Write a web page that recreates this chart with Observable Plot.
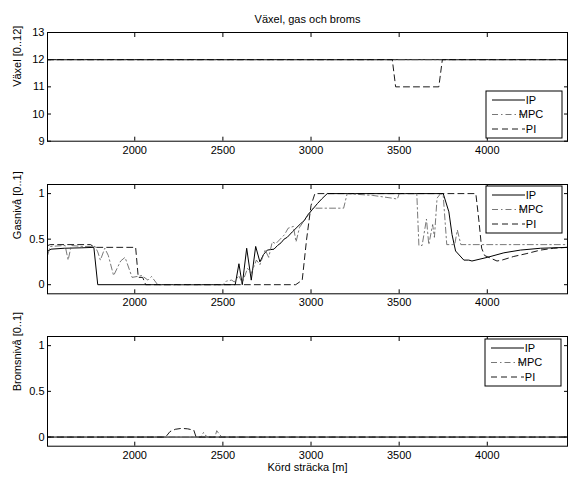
<!DOCTYPE html>
<html>
<head>
<meta charset="utf-8">
<script src="https://cdn.jsdelivr.net/npm/d3@7"></script>
<script src="https://cdn.jsdelivr.net/npm/@observablehq/plot@0.6"></script>
<style>
  body { margin: 0; background: white; }
  #chart { position: relative; width: 571px; height: 477px; background: white; }
  #chart > svg { position: absolute; left: 0; }
</style>
</head>
<body>
<div id="chart"></div>
<script>
// ---------- data ----------
const seriesNames = ["IP", "MPC", "PI"];
const xDomain = [1505, 4455];
const xTicks = [2000, 2500, 3000, 3500, 4000];
const gearTicks = [9, 10, 11, 12, 13];
const levelTicks = [0, 0.5, 1];

const chartTitle = "Växel, gas och broms";
const xLabel = "Körd sträcka [m]";
const yLabels = ["Växel [0..12]", "Gasnivå [0..1]", "Bromsnivå [0..1]"];

// Panel 1: gear
const gearIP = [[1505, 12], [4455, 12]];
const gearMPC = [[1505, 12], [4455, 12]];
const gearPI = [[1505, 12], [3461, 12], [3480, 11], [3725, 11], [3745, 12], [4455, 12]];

// Panel 2: throttle
const gasIP = [[1507, 0.37], [1525, 0.39], [1600, 0.40], [1700, 0.405], [1768, 0.41], [1790, 0],
  [2570, 0], [2591, 0.23], [2610, 0.0], [2635, 0.40], [2661, 0.05], [2686, 0.42], [2710, 0.25],
  [2730, 0.33], [2752, 0.38], [2790, 0.39], [2810, 0.43], [2830, 0.46], [2847, 0.5], [2865, 0.52],
  [2894, 0.58], [2915, 0.62], [2941, 0.67], [2960, 0.70], [2983, 0.77], [3010, 0.83], [3036, 0.89],
  [3060, 0.94], [3092, 1.0], [3750, 1.0], [3782, 0.80], [3800, 0.55], [3820, 0.37], [3867, 0.27],
  [3895, 0.27], [3913, 0.26], [4000, 0.30], [4094, 0.35], [4188, 0.38], [4302, 0.40], [4455, 0.41]];
const gasMPC = [[1507, 0.33], [1520, 0.42], [1605, 0.43], [1622, 0.27], [1640, 0.43], [1700, 0.42],
  [1775, 0.42], [1790, 0.36], [1805, 0.27], [1830, 0.40], [1850, 0.32], [1880, 0.10], [1920, 0.26],
  [1945, 0.30], [1985, 0.08], [2040, 0.10], [2075, 0.05], [2095, 0.09], [2130, 0], [2500, 0],
  [2520, 0.04], [2550, 0.05], [2565, 0.03], [2590, 0.10], [2610, 0.02], [2640, 0.18], [2660, 0.12],
  [2690, 0.27], [2710, 0.22], [2740, 0.38], [2760, 0.30], [2780, 0.47], [2800, 0.45], [2850, 0.55],
  [2870, 0.62], [2900, 0.64], [2915, 0.47], [2935, 0.63], [2960, 0.70], [2990, 0.78], [3012, 0.84],
  [3185, 0.84], [3205, 1.0], [3350, 0.98], [3460, 0.95], [3490, 0.94], [3500, 1.0], [3600, 1.0],
  [3612, 0.43], [3630, 0.43], [3655, 0.72], [3668, 0.44], [3690, 0.66], [3700, 0.52], [3715, 0.95],
  [3735, 1.0], [3750, 0.98], [3770, 0.44], [3815, 0.44], [3830, 0.60], [3850, 0.44], [4455, 0.44]];
const gasPI = [[1507, 0.43], [1520, 0.44], [1750, 0.44], [1770, 0.41], [2005, 0.41], [2020, 0.08],
  [2045, 0.08], [2062, 0], [2913, 0], [2950, 0.05], [2975, 0.5], [3000, 0.87], [3022, 1.0],
  [3935, 1.0], [3952, 0.71], [3968, 0.40], [3985, 0.32], [4055, 0.26], [4083, 0.27], [4150, 0.31],
  [4220, 0.34], [4302, 0.38], [4376, 0.40], [4455, 0.41]];

// Panel 3: brake
const brakeIP = [[1505, 0], [4455, 0]];
const brakeMPC = [[1505, 0], [2375, 0], [2390, 0.05], [2400, 0.02], [2415, 0], [2455, 0],
  [2465, 0.07], [2480, 0.03], [2495, 0], [4455, 0]];
const brakePI = [[1505, 0], [2175, 0], [2200, 0.06], [2230, 0.085], [2265, 0.095], [2300, 0.09],
  [2335, 0.075], [2348, 0], [4455, 0]];

// ---------- styles ----------
const FONT = "'Liberation Sans', Arial, Helvetica, sans-serif";
const lineStyles = {
  IP: {stroke: "black", strokeWidth: 1},
  MPC: {stroke: "#555", strokeWidth: 0.8, strokeDasharray: "6,3,1.5,3"},
  PI: {stroke: "black", strokeWidth: 0.9, strokeDasharray: "6,4"}
};

function panel({top, height, marginTop, marginBottom, yDomain, yTicks, yLabel, series, title, xlab, legendPos}) {
  const marks = [
    Plot.axisX({ticks: xTicks, anchor: "bottom", tickSize: -4, tickPadding: 8.5, label: null, tickFormat: d => String(d)}),
    Plot.axisX({ticks: xTicks, anchor: "top", tickSize: -4, label: null, tickFormat: () => ""}),
    Plot.axisY({ticks: yTicks, anchor: "left", tickSize: -4, tickPadding: 7, label: null, tickFormat: d => String(d)}),
    Plot.axisY({ticks: yTicks, anchor: "right", tickSize: -4, label: null, tickFormat: () => ""}),
    Plot.text([yLabel], {frameAnchor: "left", rotate: -90, dx: -30, fontSize: 11}),
  ];
  series.forEach(([name, data]) => {
    marks.push(Plot.line(data, {x: d => d[0], y: d => d[1], ...lineStyles[name]}));
  });
  marks.push(Plot.frame({stroke: "black", strokeWidth: 1}));
  if (title) marks.push(Plot.text([title], {frameAnchor: "top", dy: -10, lineAnchor: "bottom", fontSize: 11}));
  if (xlab) marks.push(Plot.text([xlab], {frameAnchor: "bottom", dy: 21, lineAnchor: "middle", fontSize: 11}));
  const svg = Plot.plot({
    width: 571, height, marginLeft: 47, marginRight: 4, marginTop, marginBottom,
    x: {domain: xDomain},
    y: {domain: yDomain},
    style: {fontFamily: FONT, fontSize: "11px", background: "white", color: "black", overflow: "visible"},
    marks
  });
  svg.style.top = top + "px";
  // legend box
  const g = d3.select(svg).append("g").attr("font-family", FONT).attr("font-size", 11);
  const [lx, ly] = legendPos;
  g.append("rect").attr("x", lx).attr("y", ly).attr("width", 76).attr("height", 47)
    .attr("fill", "white").attr("stroke", "black").attr("stroke-width", 1);
  const rowOffsets = [9, 23.5, 38];
  seriesNames.forEach((name, i) => {
    const st = lineStyles[name];
    const y = ly + rowOffsets[i];
    g.append("line").attr("x1", lx + 6).attr("x2", lx + 39).attr("y1", y).attr("y2", y)
      .attr("stroke", st.stroke).attr("stroke-width", st.strokeWidth)
      .attr("stroke-dasharray", st.strokeDasharray || null);
    g.append("text").attr("x", lx + 45).attr("y", y).attr("dy", "0.35em").attr("fill", "black").text(name);
  });
  document.getElementById("chart").appendChild(svg);
}

panel({top: 0, height: 160, marginTop: 32, marginBottom: 19.3, yDomain: [9, 13], yTicks: gearTicks,
  yLabel: yLabels[0], series: [["IP", gearIP], ["MPC", gearMPC], ["PI", gearPI]], title: chartTitle,
  legendPos: [486, 91]});
panel({top: 160, height: 150, marginTop: 24, marginBottom: 16.7, yDomain: [-0.1, 1.1], yTicks: levelTicks,
  yLabel: yLabels[1], series: [["IP", gasIP], ["MPC", gasMPC], ["PI", gasPI]],
  legendPos: [486, 26]});
panel({top: 310, height: 167, marginTop: 26, marginBottom: 31.3, yDomain: [-0.1, 1.1], yTicks: levelTicks,
  yLabel: yLabels[2], series: [["IP", brakeIP], ["MPC", brakeMPC], ["PI", brakePI]], xlab: xLabel,
  legendPos: [485, 29]});
</script>
</body>
</html>
